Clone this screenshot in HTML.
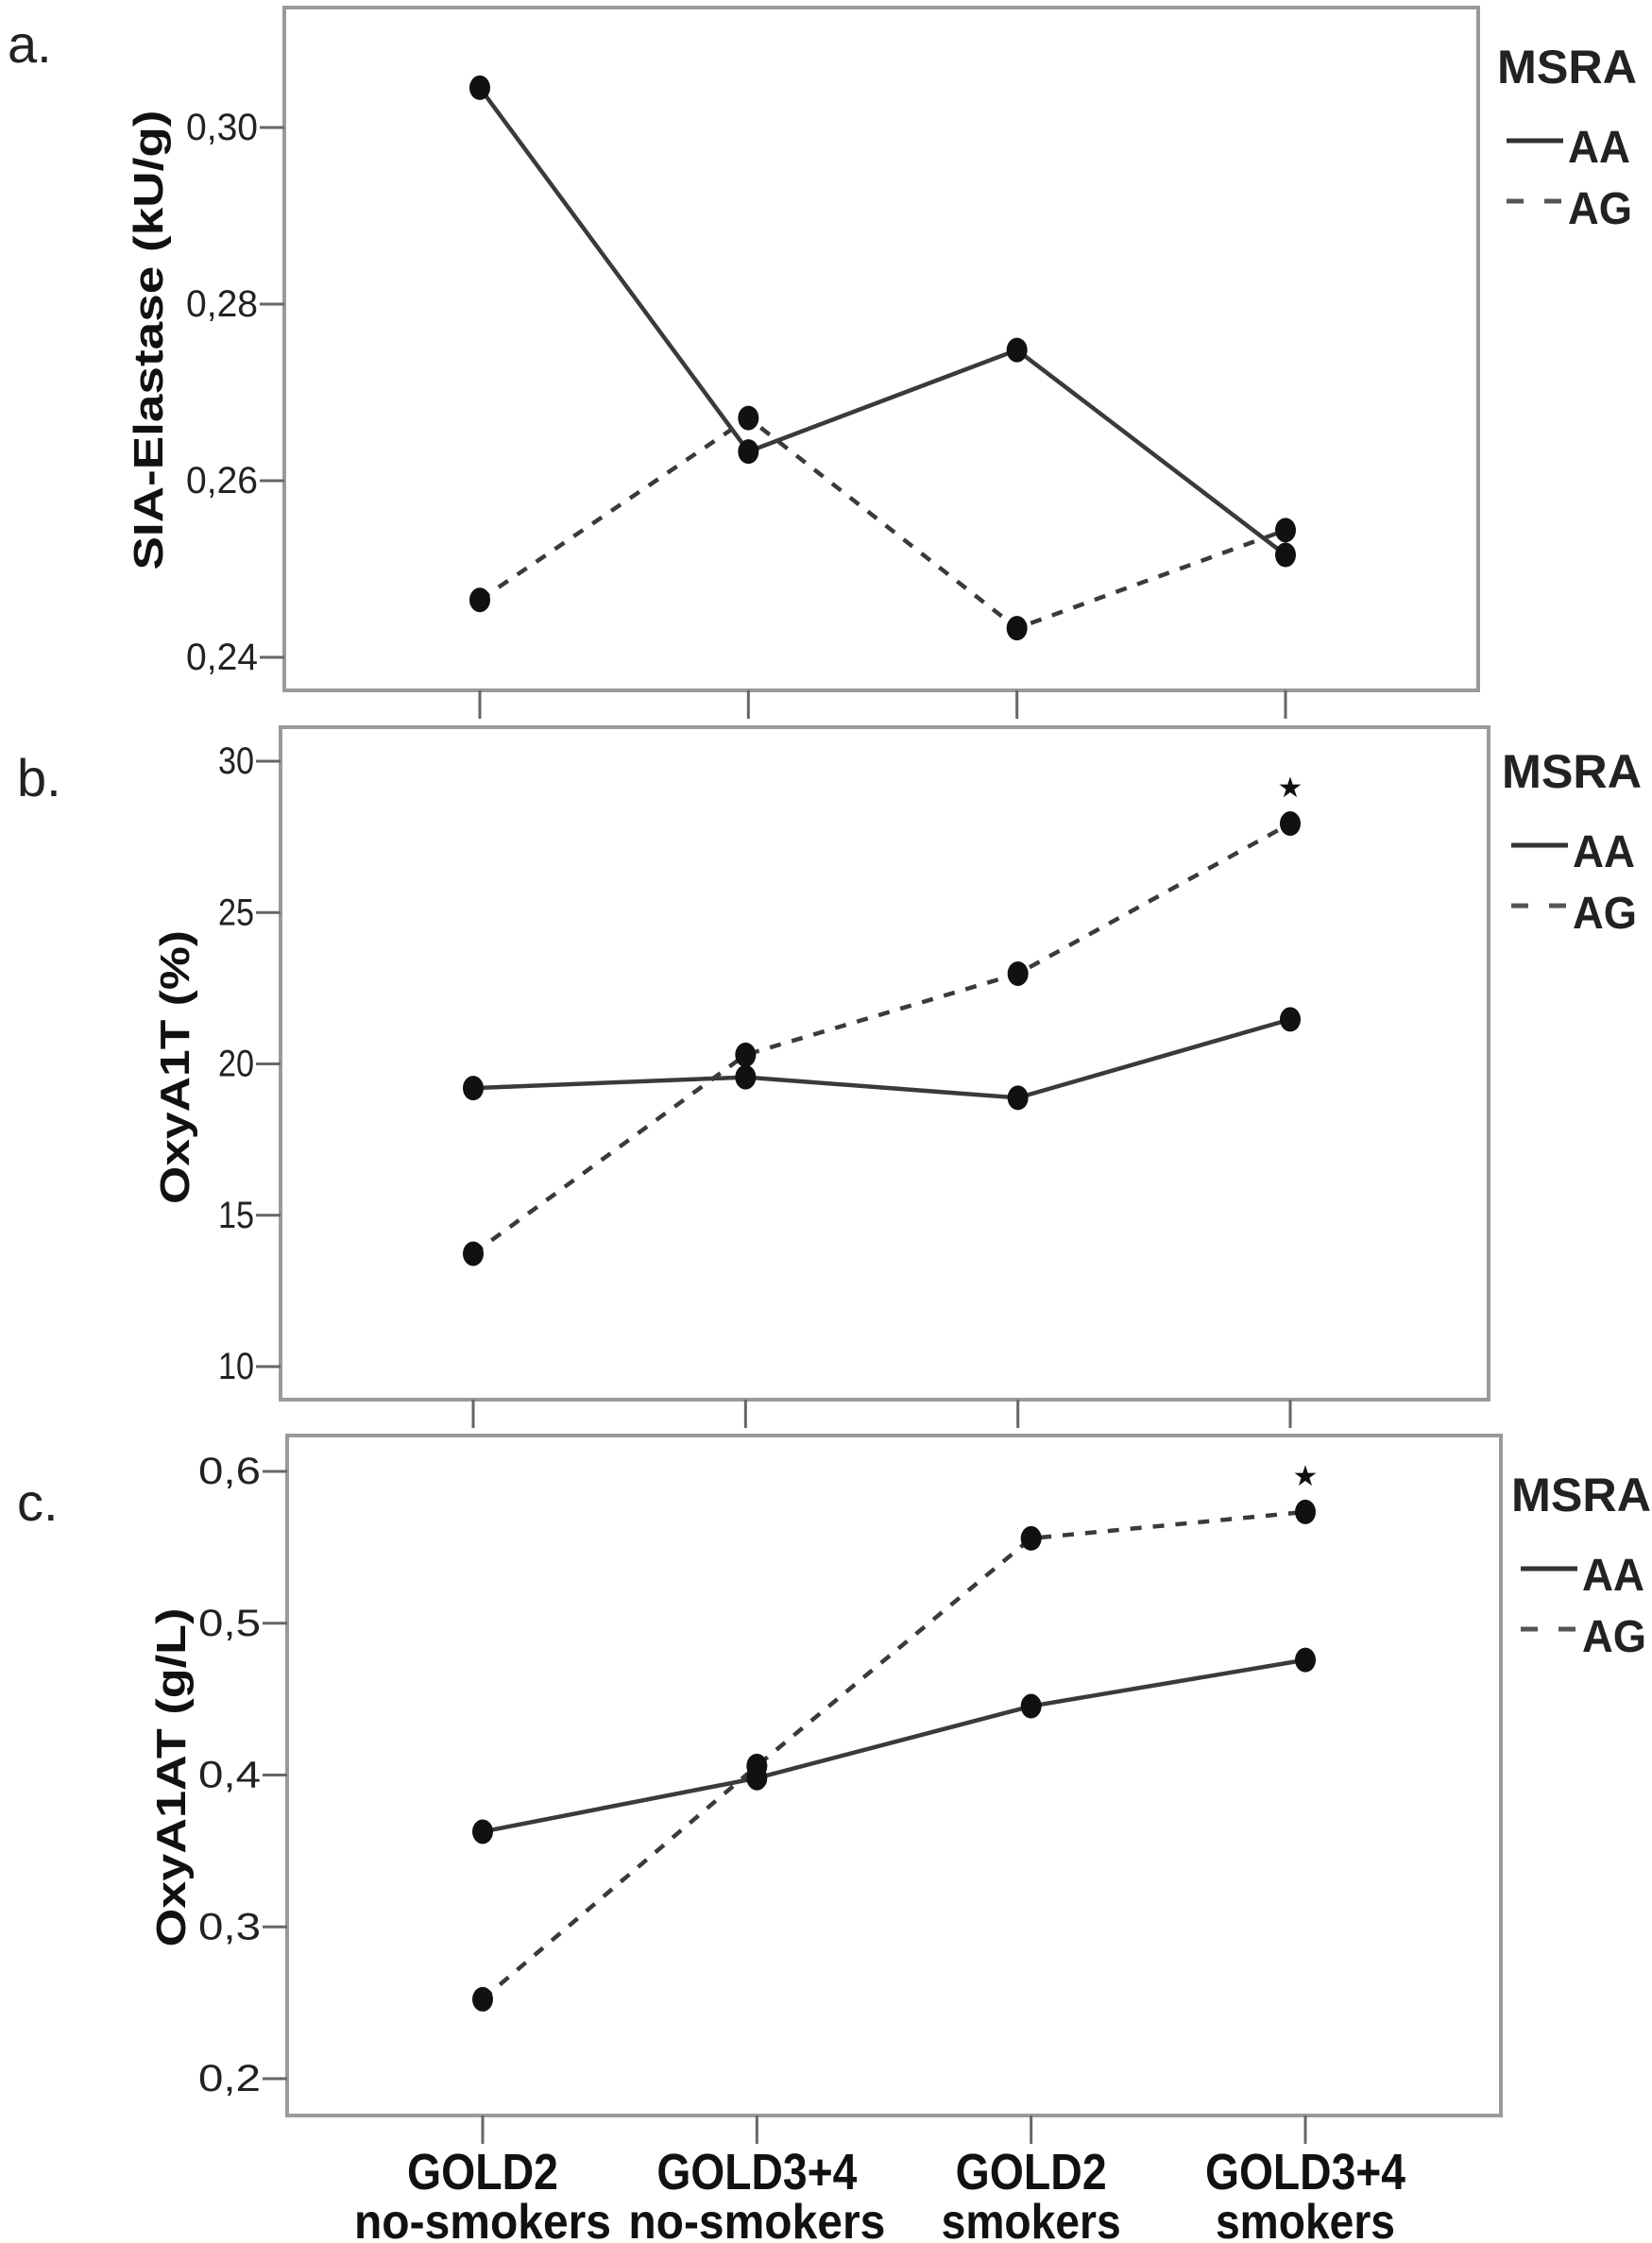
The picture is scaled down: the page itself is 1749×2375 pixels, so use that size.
<!DOCTYPE html>
<html><head><meta charset="utf-8"><style>
html,body{margin:0;padding:0;background:#fff;}
svg{display:block;}
text{font-family:"Liberation Sans Narrow","Liberation Sans",sans-serif;}
</style></head><body>
<svg id="fig" width="1749" height="2375" viewBox="0 0 1749 2375" xmlns="http://www.w3.org/2000/svg"></svg>
<script>
const categories = ["GOLD2|no-smokers","GOLD3+4|no-smokers","GOLD2|smokers","GOLD3+4|smokers"];
const aAA = [0.3045, 0.2633, 0.2748, 0.2516];
const aAG = [0.2465, 0.2671, 0.2433, 0.2544];
const aTicks = [0.24, 0.26, 0.28, 0.30];
const aTickLabels = ["0,24","0,26","0,28","0,30"];
const bAA = [19.2, 19.56, 18.88, 21.47];
const bAG = [13.73, 20.3, 22.98, 27.94];
const bTicks = [10, 15, 20, 25, 30];
const bTickLabels = ["10","15","20","25","30"];
const cAA = [0.3627, 0.398, 0.4454, 0.4758];
const cAG = [0.2523, 0.406, 0.5559, 0.5733];
const cTicks = [0.2, 0.3, 0.4, 0.5, 0.6];
const cTickLabels = ["0,2","0,3","0,4","0,5","0,6"];
const bStars = [false,false,false,true];
const cStars = [false,false,false,true];

const NS="http://www.w3.org/2000/svg";
const svg=document.getElementById('fig');
function mk(tag,attrs,parent){const e=document.createElementNS(NS,tag);for(const k in attrs)e.setAttribute(k,attrs[k]);(parent||svg).appendChild(e);return e;}

function panel(cfg){
  const g=mk('g',{});
  
  
  const y=v=>cfg.y0+(v-cfg.v0)*(cfg.y1-cfg.y0)/(cfg.v1-cfg.v0);
  const x=i=>cfg.xs0+i*(cfg.xs1-cfg.xs0)/(categories.length-1);
  const box=mk('rect',{x:cfg.L,y:cfg.T,width:cfg.R-cfg.L,height:cfg.B-cfg.T,fill:'none',stroke:'#9a9a9a','stroke-width':4},g);
  
  
  cfg.ticks.forEach((t,i)=>{
    const tk=mk('line',{x1:cfg.L-26,x2:cfg.L,y1:y(t),y2:y(t),stroke:'#666','stroke-width':3},g);
    
    
    const lb=mk('text',{x:cfg.L-28,y:y(t)+13,'text-anchor':'end','font-size':40,fill:'#222',textLength:cfg.tlw*cfg.tickLabels[i].length,lengthAdjust:'spacingAndGlyphs'},g);
    lb.textContent=cfg.tickLabels[i];
    
    
  });
  categories.forEach((c,i)=>{
    const tk=mk('line',{x1:x(i),x2:x(i),y1:cfg.B,y2:cfg.B+30,stroke:'#666','stroke-width':3},g);
    
    
  });
  const yt=mk('text',{transform:`translate(${cfg.ytx},${cfg.ytc}) rotate(-90)`,'text-anchor':'middle','font-size':44,'font-weight':'bold',fill:'#111',textLength:cfg.ytl,lengthAdjust:'spacingAndGlyphs',style:'font-family:"Liberation Sans",sans-serif'},g);
  yt.textContent=cfg.ytitle;
  
  
  const pl=mk('text',{x:cfg.plx,y:cfg.ply,'font-size':56,fill:'#222',style:'font-family:"Liberation Sans",sans-serif'},g);
  pl.textContent=cfg.letter;
  
  
  [[cfg.AG,'12 12'],[cfg.AA,'none']].forEach(([vals,dash],si)=>{
    const pts=vals.map((v,i)=>x(i)+','+y(v)).join(' ');
    const ln=mk('polyline',{points:pts,fill:'none',stroke:'#3a3a3a','stroke-width':4.5,'stroke-dasharray':dash},g);
    
    
    vals.forEach((v,i)=>{
      const d=mk('ellipse',{cx:x(i),cy:y(v),rx:11,ry:13,fill:'#111'},g);
      
      
    });
  });
  if(cfg.stars){cfg.stars.forEach((s,i)=>{ if(!s)return;
    const st=mk('text',{x:x(i),y:y(cfg.AG[i])-28,'text-anchor':'middle','font-size':30,fill:'#111',style:'font-family:"DejaVu Sans",sans-serif'},g);
    st.textContent='★';
    
    
  });}
  const lx=cfg.lgx, ly=cfg.lgy;
  const lt=mk('text',{x:lx,y:ly,'font-size':50,'font-weight':'bold',fill:'#222',textLength:148,lengthAdjust:'spacingAndGlyphs'},g);
  lt.textContent='MSRA';
  
  
  const l1=mk('line',{x1:lx+10,x2:lx+70,y1:ly+61,y2:ly+61,stroke:'#333','stroke-width':5},g);
  
  
  const t1=mk('text',{x:lx+75,y:ly+84,'font-size':48,'font-weight':'bold',fill:'#222',textLength:66,lengthAdjust:'spacingAndGlyphs'},g);
  t1.textContent='AA';
  
  
  const l2=mk('line',{x1:lx+10,x2:lx+70,y1:ly+125,y2:ly+125,stroke:'#555','stroke-width':5,'stroke-dasharray':'18 22'},g);
  
  
  const t2=mk('text',{x:lx+75,y:ly+149,'font-size':48,'font-weight':'bold',fill:'#222',textLength:68,lengthAdjust:'spacingAndGlyphs'},g);
  t2.textContent='AG';
  
  
  return x;
}

panel({name:'panel-a',letter:'a.',plx:8,ply:66,L:301,R:1565,T:8,B:731,xs0:508,xs1:1361,
  v0:0.24,v1:0.30,y0:696,y1:135,ticks:aTicks,tickLabels:aTickLabels,tlw:19,
  ytitle:'SIA-Elastase (kU/g)',ytx:172,ytc:360,ytl:487,AA:aAA,AG:aAG,stars:null,lgx:1585,lgy:88});
panel({name:'panel-b',letter:'b.',plx:18,ply:843,L:297,R:1576,T:770,B:1482,xs0:501,xs1:1366,
  v0:10,v1:30,y0:1447,y1:806,ticks:bTicks,tickLabels:bTickLabels,tlw:19,
  ytitle:'OxyA1T (%)',ytx:200,ytc:1130,ytl:290,AA:bAA,AG:bAG,stars:bStars,lgx:1590,lgy:834});
const xc=panel({name:'panel-c',letter:'c.',plx:18,ply:1610,L:304,R:1589,T:1520,B:2240,xs0:511,xs1:1382,
  v0:0.2,v1:0.6,y0:2201,y1:1558,ticks:cTicks,tickLabels:cTickLabels,tlw:22,
  ytitle:'OxyA1AT (g/L)',ytx:196,ytc:1882,ytl:359,AA:cAA,AG:cAG,stars:cStars,lgx:1600,lgy:1600});

const w1={"GOLD2":160,"GOLD3+4":212};
const w2={"no-smokers":272,"smokers":190};
categories.forEach((c,i)=>{
  const [a,b]=c.split('|');
  const t1=mk('text',{x:xc(i),y:2318,'text-anchor':'middle','font-size':54,'font-weight':'bold',fill:'#111',textLength:w1[a],lengthAdjust:'spacingAndGlyphs'});
  t1.textContent=a;
  
  
  const t2=mk('text',{x:xc(i),y:2370,'text-anchor':'middle','font-size':52,'font-weight':'bold',fill:'#111',textLength:w2[b],lengthAdjust:'spacingAndGlyphs'});
  t2.textContent=b;
  
  
});
</script>
</body></html>
